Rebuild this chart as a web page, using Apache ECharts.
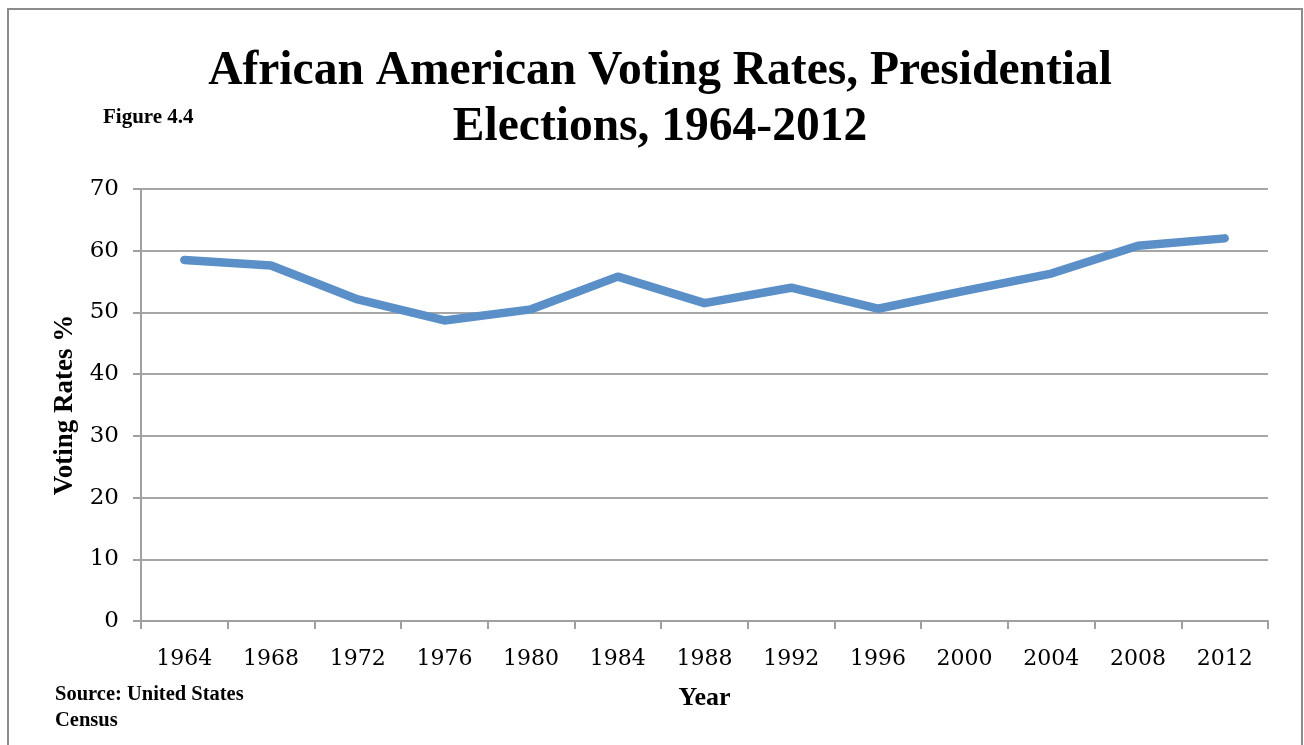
<!DOCTYPE html>
<html>
<head>
<meta charset="utf-8">
<style>html,body{margin:0;padding:0;background:#fff;}#c{width:1304px;height:745px;}</style>
<script src="https://cdn.jsdelivr.net/npm/echarts@6/dist/echarts.min.js"></script>
</head>
<body>
<div id="c"></div>
<script>
const years = ['1964','1968','1972','1976','1980','1984','1988','1992','1996','2000','2004','2008','2012'];
const votingRates = [58.5, 57.6, 52.1, 48.7, 50.5, 55.8, 51.5, 54.0, 50.6, 53.5, 56.3, 60.8, 62.0];
const yTicks = [0, 10, 20, 30, 40, 50, 60, 70];

const chart = echarts.init(document.getElementById('c'), null, {renderer: 'canvas'});
const serif = '"Liberation Serif", "Times New Roman", serif';
const tickFont = '"DejaVu Serif", serif';
chart.setOption({
  backgroundColor: '#fff',
  animation: false,
  title: [{
    text: 'African American Voting Rates, Presidential\nElections, 1964-2012',
    left: 655, top: 39, textAlign: 'center',
    textStyle: {fontFamily: serif, fontWeight: 'bold', fontSize: 47.5, lineHeight: 56, color: '#000'}
  }, {
    text: 'Figure 4.4', left: 98, top: 102,
    textStyle: {fontFamily: serif, fontWeight: 'bold', fontSize: 21, color: '#000'}
  }, {
    text: 'Source: United States\nCensus', left: 50, top: 677,
    textStyle: {fontFamily: serif, fontWeight: 'bold', fontSize: 20.5, lineHeight: 26, color: '#000'}
  }],
  graphic: [{
    type: 'rect', shape: {x: 8, y: 9, width: 1294, height: 760},
    style: {fill: 'none', stroke: '#8c8c8c', lineWidth: 2}, silent: true
  }],
  grid: {left: 141, right: 36, top: 189, bottom: 124},
  xAxis: {
    type: 'category', data: years, boundaryGap: true,
    name: 'Year', nameLocation: 'middle', nameGap: 64,
    nameTextStyle: {fontFamily: serif, fontWeight: 'bold', fontSize: 26, color: '#000'},
    axisLine: {lineStyle: {color: '#a0a0a0', width: 2}},
    axisTick: {show: true, length: 8, lineStyle: {color: '#a0a0a0', width: 2}},
    axisLabel: {fontFamily: tickFont, fontSize: 22, color: '#000', margin: 27},
    splitLine: {show: false}
  },
  yAxis: {
    type: 'value', min: 0, max: 70, interval: 10,
    name: 'Voting Rates %', nameLocation: 'middle', nameGap: 62, nameRotate: 90,
    nameTextStyle: {fontFamily: serif, fontWeight: 'bold', fontSize: 27, color: '#000'},
    axisLine: {show: true, lineStyle: {color: '#a0a0a0', width: 2}},
    axisTick: {show: true, length: 8, lineStyle: {color: '#a0a0a0', width: 2}},
    axisLabel: {fontFamily: tickFont, fontSize: 23, color: '#000', margin: 22,
      formatter: v => yTicks.includes(v) ? String(v) : ''},
    splitLine: {show: true, lineStyle: {color: '#a6a6a6', width: 2}}
  },
  series: [{
    type: 'line', data: votingRates, symbol: 'none',
    lineStyle: {color: '#5b8fc8', width: 8.5, cap: 'round', join: 'round'}
  }]
});
</script>
</body>
</html>
